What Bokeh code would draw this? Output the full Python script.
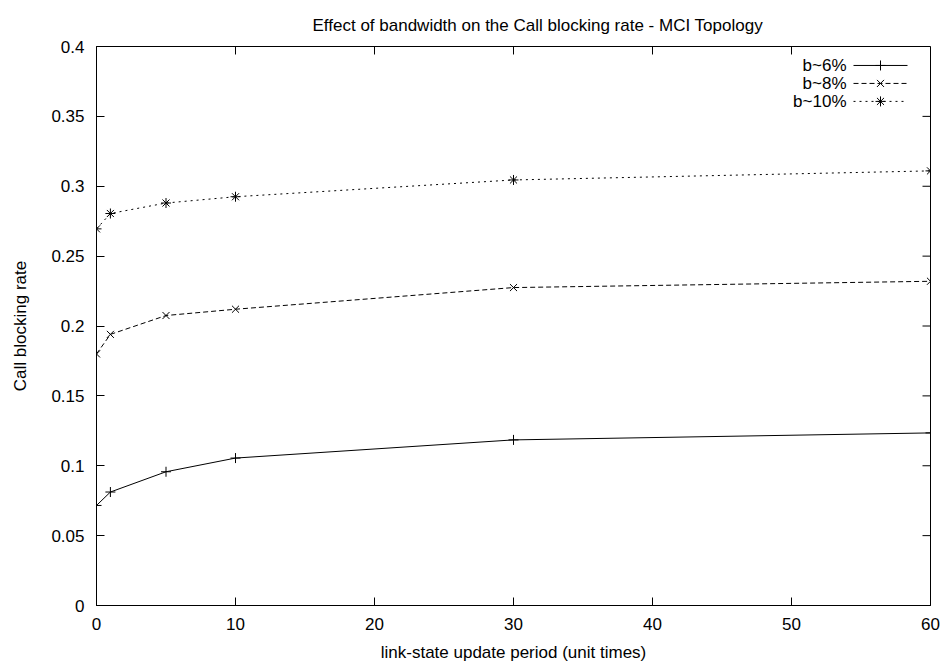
from bokeh.plotting import figure
from bokeh.models import (Range1d, FixedTicker, Label, ColumnDataSource)
from bokeh.embed import file_html
from bokeh.resources import INLINE

# ---- data ----
period = [0, 1, 5, 10, 30, 60]
b6 = [0.0716, 0.0812, 0.0957, 0.1055, 0.1185, 0.1235]
b8 = [0.180, 0.194, 0.2075, 0.212, 0.2275, 0.232]
b10 = [0.2695, 0.2805, 0.288, 0.2925, 0.3045, 0.311]
series_names = ["b~6%", "b~8%", "b~10%"]
x_ticks = [0, 10, 20, 30, 40, 50, 60]
y_ticks = [0, 0.05, 0.1, 0.15, 0.2, 0.25, 0.3, 0.35, 0.4]
y_tick_labels = ["0", "0.05", "0.1", "0.15", "0.2", "0.25", "0.3", "0.35", "0.4"]

FONT = "Liberation Sans"
FS = "17px"

W, H = 941, 664
L, R, T, B = 96, 11, 46, 58
XMIN, XMAX, YMIN, YMAX = 0, 60, 0, 0.4

p = figure(width=W, height=H, output_backend="svg", toolbar_location=None,
           x_range=Range1d(XMIN, XMAX), y_range=Range1d(YMIN, YMAX),
           min_border_left=L, min_border_right=R, min_border_top=T, min_border_bottom=B)
p.grid.visible = False
p.outline_line_color = "black"
p.outline_line_width = 1
p.background_fill_color = "white"
p.border_fill_color = "white"

p.title.text = "Effect of bandwidth on the Call blocking rate - MCI Topology"
p.title.align = "left"
p.title.offset = 216
p.title.standoff = 24
p.title.text_font = FONT
p.title.text_font_size = FS
p.title.text_font_style = "normal"
p.title.text_color = "black"

for ax in (p.xaxis[0], p.yaxis[0]):
    ax.major_tick_in = 8
    ax.major_tick_out = 0
    ax.minor_tick_in = 0
    ax.minor_tick_out = 0
    ax.axis_line_color = "black"
    ax.major_tick_line_color = "black"
    ax.major_label_text_font = FONT
    ax.major_label_text_font_size = FS
    ax.major_label_text_color = "black"
    ax.major_label_standoff = 12
    ax.axis_label_text_font = FONT
    ax.axis_label_text_font_size = FS
    ax.axis_label_text_font_style = "normal"
    ax.axis_label_text_color = "black"

p.xaxis.ticker = FixedTicker(ticks=x_ticks)
p.yaxis.ticker = FixedTicker(ticks=y_ticks)
p.yaxis.major_label_overrides = {t: s for t, s in zip(y_ticks, y_tick_labels)}
p.xaxis.axis_label = "link-state update period (unit times)"
p.yaxis.axis_label = "Call blocking rate"
p.xaxis.axis_label_standoff = 10
p.yaxis.axis_label_standoff = 18

fw = W - L - R
fh = H - T - B
tick_dx = 8 / fw * (XMAX - XMIN)
tick_dy = 8 / fh * (YMAX - YMIN)

# mirrored ticks on top and right edges (gnuplot style)
p.segment(x0=x_ticks, y0=[YMAX] * len(x_ticks), x1=x_ticks,
          y1=[YMAX - tick_dy] * len(x_ticks), line_color="black", line_width=1)
p.segment(x0=[XMAX] * len(y_ticks), y0=y_ticks, x1=[XMAX - tick_dx] * len(y_ticks),
          y1=y_ticks, line_color="black", line_width=1)

# ---- series ----
dashes = ["solid", "5 3", "2 4"]
markers = ["cross", "x", "asterisk"]
for ys, dash, mk in zip([b6, b8, b10], dashes, markers):
    src = ColumnDataSource(dict(x=period, y=ys))
    p.line("x", "y", source=src, line_color="black", line_width=1, line_dash=dash)
    p.scatter("x", "y", source=src, marker=mk, size=10, line_color="black", line_width=1)

# ---- legend (gnuplot style: text, then sample) ----
def dx(px):
    return XMIN + (px - L) / fw * (XMAX - XMIN)
def dy(py):
    return YMIN + (H - B - py) / fh * (YMAX - YMIN)

rows_y = [65, 83, 101]
for name, dash, mk, ry in zip(series_names, dashes, markers, rows_y):
    p.add_layout(Label(x=dx(846), y=dy(ry), text=name, text_align="right",
                       text_baseline="middle", text_font=FONT, text_font_size=FS,
                       text_color="black"))
    p.line([dx(853), dx(907)], [dy(ry), dy(ry)], line_color="black", line_width=1, line_dash=dash)
    p.scatter([dx(880)], [dy(ry)], marker=mk, size=10, line_color="black", line_width=1)

open("out.html", "w").write(file_html(p, INLINE))
